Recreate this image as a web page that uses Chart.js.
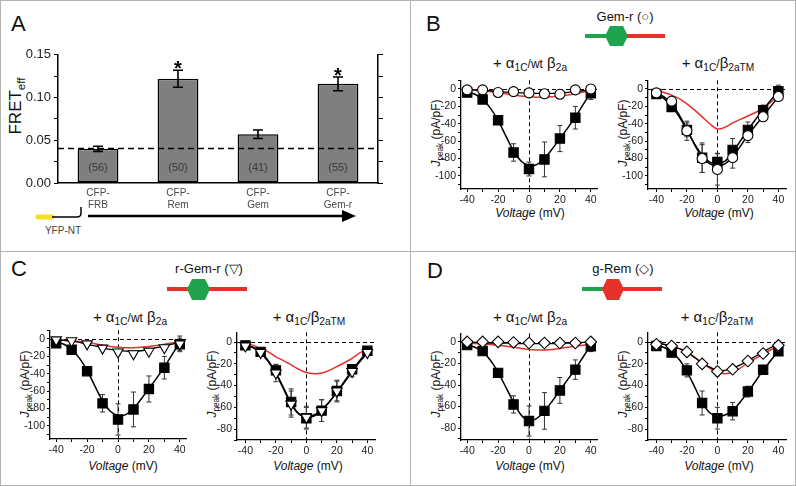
<!DOCTYPE html>
<html>
<head>
<meta charset="utf-8">
<script src="https://cdn.jsdelivr.net/npm/chart.js@4.4.1/dist/chart.umd.min.js"></script>
<style>
body { margin: 0; background: #fff; font-family: "Liberation Sans", Arial, sans-serif; }
#fig { position: relative; width: 796px; height: 486px; overflow: hidden; background: #fff; }
.ln { position: absolute; background: #b3b3b3; }
canvas { position: absolute; }
.t { position: absolute; white-space: nowrap; color: #111; line-height: 1; }
.c { transform: translate(-50%, -50%); }
.r { transform: translate(-50%, -50%) rotate(-90deg); }
.sb { font-size: 0.68em; position: relative; top: 0.32em; }
.sm { font-size: 0.8em; }
.ax { font-size: 12px; }
.tt { font-size: 15px; }
.hd { font-size: 13px; }
.pl { font-size: 22px; }
svg { position: absolute; left: 0; top: 0; }
</style>
</head>
<body>
<div id="fig">
  <div class="ln" style="left:0;top:0;width:796px;height:1px"></div>
  <div class="ln" style="left:0;top:485px;width:796px;height:1px"></div>
  <div class="ln" style="left:0;top:0;width:1px;height:486px"></div>
  <div class="ln" style="left:795px;top:0;width:1px;height:486px"></div>
  <div class="ln" style="left:410px;top:0;width:1px;height:486px"></div>
  <div class="ln" style="left:0;top:251px;width:796px;height:1px"></div>

  <!-- panel letters -->
  <div class="t pl" style="left:11px;top:13px">A</div>
  <div class="t pl" style="left:426px;top:13px">B</div>
  <div class="t pl" style="left:11px;top:258px">C</div>
  <div class="t pl" style="left:427px;top:260px">D</div>

  <!-- panel A texts -->
  <div class="t r" style="left:15px;top:106px;font-size:17px">FRET<span class="sb">eff</span></div>
  <div class="t c" style="left:63px;top:231px;font-size:10px;color:#444">YFP-NT</div>

  <!-- headers -->
  <div class="t c hd" style="left:625px;top:16px">Gem-r (○)</div>
  <div class="t c hd" style="left:209px;top:268px">r-Gem-r (▽)</div>
  <div class="t c hd" style="left:623px;top:268px">g-Rem (◇)</div>

  <!-- subplot titles -->
  <div class="t c tt" style="left:530px;top:63px">+ α<span class="sb">1C</span><span class="sm">/wt</span> β<span class="sb">2a</span></div>
  <div class="t c tt" style="left:718px;top:63px">+ α<span class="sb">1C</span><span class="sm">/</span>β<span class="sb">2aTM</span></div>
  <div class="t c tt" style="left:130px;top:317px">+ α<span class="sb">1C</span><span class="sm">/wt</span> β<span class="sb">2a</span></div>
  <div class="t c tt" style="left:309px;top:317px">+ α<span class="sb">1C</span><span class="sm">/</span>β<span class="sb">2aTM</span></div>
  <div class="t c tt" style="left:530px;top:317px">+ α<span class="sb">1C</span><span class="sm">/wt</span> β<span class="sb">2a</span></div>
  <div class="t c tt" style="left:717px;top:317px">+ α<span class="sb">1C</span><span class="sm">/</span>β<span class="sb">2aTM</span></div>

  <!-- axis titles -->
  <div class="t c ax" style="left:530px;top:213px"><i>Voltage</i> (mV)</div>
  <div class="t c ax" style="left:719px;top:213px"><i>Voltage</i> (mV)</div>
  <div class="t c ax" style="left:123px;top:466px"><i>Voltage</i> (mV)</div>
  <div class="t c ax" style="left:308px;top:466px"><i>Voltage</i> (mV)</div>
  <div class="t c ax" style="left:530px;top:466px"><i>Voltage</i> (mV)</div>
  <div class="t c ax" style="left:719px;top:466px"><i>Voltage</i> (mV)</div>
  <div class="t r ax" style="left:436px;top:133px"><i>J</i><span class="sb">peak</span> (pA/pF)</div>
  <div class="t r ax" style="left:623px;top:133px"><i>J</i><span class="sb">peak</span> (pA/pF)</div>
  <div class="t r ax" style="left:25px;top:384px"><i>J</i><span class="sb">peak</span> (pA/pF)</div>
  <div class="t r ax" style="left:212px;top:384px"><i>J</i><span class="sb">peak</span> (pA/pF)</div>
  <div class="t r ax" style="left:436px;top:384px"><i>J</i><span class="sb">peak</span> (pA/pF)</div>
  <div class="t r ax" style="left:623px;top:384px"><i>J</i><span class="sb">peak</span> (pA/pF)</div>

  <!-- construct sketches -->
  <svg width="796" height="486">
    <path d="M38,217 L52,217" stroke="#f4e01c" stroke-width="5" stroke-linecap="round"/>
    <path d="M52,217 L77,217 Q81,217 81,213 L81,207" stroke="#000" stroke-width="1.5" fill="none"/>
    <path d="M88,216 L345,216" stroke="#000" stroke-width="2.3"/>
    <polygon points="342,210 356,216 342,222" fill="#000"/>

    <path d="M585,36 L606,36" stroke="#1ea24b" stroke-width="4"/>
    <path d="M627,36 L665,36" stroke="#e8302b" stroke-width="4"/>
    <polygon points="605,36 610,26 623,26 628,36 623,46 610,46" fill="#1ea24b"/>

    <path d="M167,289 L247,289" stroke="#e8302b" stroke-width="4"/>
    <polygon points="187,289 192,279 205,279 210,289 205,300 192,300" fill="#1ea24b"/>

    <path d="M582,289 L603,289" stroke="#1ea24b" stroke-width="4"/>
    <path d="M623,289 L662,289" stroke="#e8302b" stroke-width="4"/>
    <polygon points="602,289 607,279 619,279 624,289 619,300 607,300" fill="#e8302b"/>
  </svg>
</div>

<script>
// ---------- Panel A data ----------
var fretLabels = [["CFP-", "FRB"], ["CFP-", "Rem"], ["CFP-", "Gem"], ["CFP-", "Gem-r"]];
var fretValues = [0.040, 0.122, 0.057, 0.116];
var fretErrors = [0.003, 0.010, 0.005, 0.008];
var fretN = ["(56)", "(50)", "(41)", "(55)"];
var fretStar = [false, true, false, true];
var fretBaseline = 0.041;

// ---------- I-V data (mV, pA/pF) ----------
var volts = [-40, -30, -20, -10, 0, 10, 20, 30, 40];
var fitVolts = [-40, -35, -30, -25, -20, -15, -10, -5, 0, 5, 10, 15, 20, 25, 30, 35, 40];

// B: Gem-r
var bWtCtrl = [-4, -12, -36, -73, -92, -81, -57, -33, -5];
var bWtCtrlErr = [2, 3, 3, 10, 8, 20, 15, 13, 7];
var bWtTest = [-1, -1, -4, -3, -4.5, -5.5, -6, -1, 0];
var bWtTestErr = [1, 1, 1, 1, 2, 2, 2, 1, 1];
var bWtCtrlFit = [-3, -6, -12, -22, -36, -54, -71, -83, -88, -87, -80, -69, -57, -45, -32, -18, -4];
var bWtTestFit = [-1, -1, -1.5, -2, -3, -3.5, -4, -4.5, -5, -5, -5, -5, -4.5, -4, -3, -2, -1];
var bWtRed = [-1, -1.5, -2, -3, -4, -5.5, -7, -8, -9, -9.5, -9.5, -9, -8, -7, -5.5, -3.5, -2];

var bTmCtrl = [-5.7, -20.7, -47, -79, -84, -70, -47, -24.5, -2.6];
var bTmCtrlErr = [2, 4, 8, 17, 10, 13, 9, 6, 7];
var bTmTest = [-4.5, -14, -48, -80, -92.5, -79, -53.6, -32, -8.7];
var bTmTestErr = [2, 4, 11, 16, 18, 12, 8, 5, 3];
var bTmCtrlFit = [-5, -11, -20, -32, -47, -63, -76, -84, -86, -83, -73, -60, -47, -35, -24, -13, -3];
var bTmTestFit = [-4, -9, -17, -30, -46, -64, -78, -86, -88, -86, -78, -66, -53, -42, -31, -20, -9];
var bTmRed = [-2, -4, -7, -11, -17, -24, -32, -40, -46, -44, -39, -35, -31, -27, -22, -15, -8];

// C: r-Gem-r
var cWtCtrl = [-5, -12.4, -37, -74, -92.5, -81, -57.5, -33, -6];
var cWtCtrlErr = [2, 3, 3, 10, 18, 20, 15, 13, 7];
var cWtTest = [-1, -2, -5.6, -10.5, -15, -17, -14, -10, -5.6];
var cWtTestErr = [1, 1, 2, 2, 3, 3, 3, 3, 9];
var cWtCtrlFit = [-3, -6, -12, -22, -36, -54, -71, -83, -88, -87, -80, -69, -57, -45, -32, -18, -4];
var cWtTestFit = [-1, -1.5, -2.5, -4, -6, -8, -10, -12, -13, -14, -14, -13.5, -12, -10, -8, -6, -4];
var cWtRed = [-1, -1.5, -2, -3, -4, -5.5, -7, -8.5, -9.5, -10, -10, -9.5, -8.5, -7.5, -6, -4.5, -3];

var cTmCtrl = [-3, -9, -26, -55, -70, -63, -45, -25, -8];
var cTmCtrlErr = [2, 3, 5, 12, 10, 10, 9, 4, 3];
var cTmTest = [-3.6, -9.6, -28.4, -57, -69, -63, -45, -27, -9.6];
var cTmTestErr = [2, 3, 8, 12, 10, 10, 10, 5, 2];
var cTmCtrlFit = [-3, -5, -9, -17, -28, -42, -56, -66, -69, -68, -63, -55, -46, -36, -26, -17, -9];
var cTmTestFit = [-3, -5, -10, -18, -29, -43, -57, -66, -68, -67, -62, -55, -46, -37, -27, -18, -10];
var cTmRed = [-1.5, -3, -6, -9, -13.5, -17, -21, -25, -28, -29, -28.5, -26, -22.5, -19, -15, -10, -6];

// D: g-Rem
var dWtCtrl = [-3, -8.5, -28.7, -58, -73.4, -64, -45, -25.7, -4];
var dWtCtrlErr = [1, 2, 3, 8, 14, 17, 12, 9, 5];
var dWtTest = [0, 0, 0, -0.5, -1, -1, -1, -1, 0];
var dWtTestErr = [1, 1, 1, 1, 1, 1, 1, 1, 1];
var dWtCtrlFit = [-3, -5, -9, -17, -28, -42, -56, -68, -73, -71, -64, -55, -45, -35, -25, -14, -3];
var dWtTestFit = [-0.5, -0.5, -0.5, -1, -1, -1, -1, -1.5, -1.5, -1.5, -1.5, -1.5, -1.5, -1, -1, -0.5, -0.5];
var dWtRed = [-1, -1.5, -2, -2.5, -3, -4, -5, -6, -7, -7.5, -7.5, -7, -6, -5, -4, -3, -2];

var dTmCtrl = [-3.6, -9.6, -26, -56, -70, -63.5, -45.5, -25.4, -8.4];
var dTmCtrlErr = [1, 2, 6, 11, 10, 8, 5, 3, 2];
var dTmTest = [-2, -3.6, -9, -20, -27, -25, -17.4, -10.5, -3];
var dTmTestErr = [1, 1, 2, 2, 4, 3, 3, 2, 1];
var dTmCtrlFit = [-3, -5, -9, -16, -27, -41, -55, -65, -68, -67, -63, -55, -46, -36, -26, -17, -8];
var dTmTestFit = [-1, -2, -4, -6, -9, -14, -19, -23, -26, -26, -24, -21, -17, -13, -9, -5, -2];
var dTmRed = [-1, -2, -4, -6, -9, -14, -19, -24, -28, -29, -28, -24, -19, -15, -11, -7, -4];

var RED = "#e8302b";
var FONT = '"Liberation Sans", Arial, sans-serif';

Chart.defaults.font.family = FONT;
Chart.defaults.color = "#1a1a1a";
Chart.defaults.animation = false;
Chart.defaults.plugins.legend.display = false;
Chart.defaults.plugins.tooltip.enabled = false;

var fig = document.getElementById("fig");

// make a canvas so that the chart area lands on [l,t,r,b]
function makeCanvas(l, t, r, b, yw, xh, pt, pr) {
  var cv = document.createElement("canvas");
  var w = r - l + yw + pr, h = b - t + pt + xh;
  cv.width = w; cv.height = h;
  cv.style.left = (l - yw) + "px";
  cv.style.top = (t - pt) + "px";
  cv.style.width = w + "px";
  cv.style.height = h + "px";
  fig.insertBefore(cv, fig.querySelector("svg"));
  return cv;
}

function every20(v) { return Math.round(v) % 20 === 0 ? String(Math.round(v)) : ""; }

// ---------------- Panel A ----------------
var fretExtras = {
  id: "fretExtras",
  afterDatasetsDraw: function(chart) {
    var ctx = chart.ctx, xs = chart.scales.x, ys = chart.scales.y, area = chart.chartArea;
    ctx.save();
    ctx.strokeStyle = "#000";
    ctx.lineWidth = 1.3;
    ctx.setLineDash([6, 4]);
    var yb = Math.round(ys.getPixelForValue(fretBaseline)) + 0.5;
    ctx.beginPath(); ctx.moveTo(area.left, yb); ctx.lineTo(area.right, yb); ctx.stroke();
    ctx.setLineDash([]);
    for (var i = 0; i < fretValues.length; i++) {
      var x = xs.getPixelForValue(i);
      var hi = ys.getPixelForValue(fretValues[i] + fretErrors[i]);
      var lo = ys.getPixelForValue(fretValues[i] - fretErrors[i]);
      ctx.lineWidth = 1.6;
      ctx.beginPath();
      ctx.moveTo(x, hi); ctx.lineTo(x, lo);
      ctx.moveTo(x - 5, hi); ctx.lineTo(x + 5, hi);
      ctx.moveTo(x - 5, lo); ctx.lineTo(x + 5, lo);
      ctx.stroke();
      ctx.fillStyle = "#3a3a3a";
      ctx.font = "11px " + FONT;
      ctx.textAlign = "center";
      ctx.textBaseline = "middle";
      ctx.fillText(fretN[i], x, area.bottom - 15);
      if (fretStar[i]) {
        ctx.fillStyle = "#000";
        ctx.font = "bold 20px " + FONT;
        ctx.textBaseline = "alphabetic";
        ctx.fillText("*", x, hi + 5);
      }
    }
    ctx.restore();
  }
};

new Chart(makeCanvas(58, 52, 386, 183, 44, 30, 8, 2), {
  type: "bar",
  data: {
    labels: fretLabels,
    datasets: [{
      data: fretValues,
      backgroundColor: "#7f7f7f",
      borderColor: "#000",
      borderWidth: 1.5,
      borderSkipped: false,
      barPercentage: 1,
      categoryPercentage: 0.51,
      yAxisID: "y"
    }]
  },
  options: {
    responsive: false,
    maintainAspectRatio: false,
    layout: { padding: { top: 8, right: 2, left: 0, bottom: 0 } },
    scales: {
      x: {
        grid: { display: false, drawTicks: false },
        border: { display: true, color: "#000", width: 1.5 },
        ticks: { font: { size: 10, lineHeight: 1.2 }, color: "#4a4a4a", padding: 4, maxRotation: 0, autoSkip: false },
        afterFit: function(s) { s.height = 30; }
      },
      y: {
        position: "left", min: 0, max: 0.15,
        grid: { drawOnChartArea: false, color: "#000", tickLength: 4 },
        border: { display: true, color: "#000", width: 1.5 },
        ticks: {
          stepSize: 0.025, includeBounds: false, autoSkip: false, font: { size: 13 }, color: "#222", padding: 3,
          callback: function(v) { return Math.abs(v * 20 - Math.round(v * 20)) < 1e-6 ? v.toFixed(2) : ""; }
        },
        afterFit: function(s) { s.width = 44; }
      },
      y2: {
        position: "right", min: 0, max: 0.15,
        grid: { drawOnChartArea: false, color: "#000", tickLength: 5 },
        border: { display: true, color: "#000", width: 1.5 },
        ticks: { stepSize: 0.025, includeBounds: false, autoSkip: false, padding: 0, callback: function() { return ""; } },
        afterFit: function(s) { s.width = 8; }
      }
    }
  },
  plugins: [fretExtras]
});

// ---------------- I-V panels ----------------
function pts(xs, ys) {
  return xs.map(function(x, i) { return { x: x, y: ys[i] }; });
}

function markers(vals, errs, style) {
  var ds = {
    data: pts(volts, vals),
    errors: errs,
    showLine: false,
    pointStyle: style,
    pointBorderColor: "#000",
    pointBorderWidth: 1.1,
    pointBackgroundColor: "#fff",
    pointRadius: 5
  };
  if (style === "rect") { ds.pointBackgroundColor = "#000"; ds.pointRadius = 6.6; }
  if (style === "triangle") { ds.pointRotation = 180; ds.pointRadius = 6; }
  if (style === "rectRot") { ds.pointRadius = 5.8; }
  return ds;
}

function curve(vals, color, width) {
  return {
    data: pts(fitVolts, vals),
    showLine: true,
    borderColor: color,
    borderWidth: width,
    pointRadius: 0,
    tension: 0.35,
    fill: false
  };
}

var ivExtras = {
  id: "ivExtras",
  beforeDatasetsDraw: function(chart) {
    var ctx = chart.ctx, xs = chart.scales.x, ys = chart.scales.y, area = chart.chartArea;
    ctx.save();
    ctx.strokeStyle = "#000";
    ctx.lineWidth = 1;
    ctx.setLineDash([4, 3]);
    var y0 = Math.round(ys.getPixelForValue(0)) + 0.5;
    var x0 = Math.round(xs.getPixelForValue(0)) + 0.5;
    ctx.beginPath();
    ctx.moveTo(area.left, y0); ctx.lineTo(area.right, y0);
    ctx.moveTo(x0, area.top); ctx.lineTo(x0, area.bottom);
    ctx.stroke();
    ctx.setLineDash([]);
    ctx.strokeStyle = "#333";
    chart.data.datasets.forEach(function(ds) {
      if (!ds.errors) return;
      ds.data.forEach(function(p, i) {
        var x = xs.getPixelForValue(p.x);
        var hi = ys.getPixelForValue(p.y + ds.errors[i]);
        var lo = ys.getPixelForValue(p.y - ds.errors[i]);
        ctx.beginPath();
        ctx.moveTo(x, hi); ctx.lineTo(x, lo);
        ctx.moveTo(x - 2.5, hi); ctx.lineTo(x + 2.5, hi);
        ctx.moveTo(x - 2.5, lo); ctx.lineTo(x + 2.5, lo);
        ctx.stroke();
      });
    });
    ctx.restore();
  }
};

function ivChart(box, xMin, xMax, yMin, yMax, datasets) {
  var YW = 34, XH = 18, PT = 6, PR = 10;
  var cv = makeCanvas(box[0], box[1], box[2], box[3], YW, XH, PT, PR);
  return new Chart(cv, {
    type: "line",
    data: { datasets: datasets },
    options: {
      responsive: false,
      maintainAspectRatio: false,
      layout: { padding: { top: PT, right: PR, left: 0, bottom: 0 } },
      scales: {
        x: {
          type: "linear", min: xMin, max: xMax,
          grid: { drawOnChartArea: false, color: "#000", tickLength: 3 },
          border: { display: true, color: "#000", width: 1.3 },
          ticks: {
            stepSize: 10, includeBounds: false, autoSkip: false, font: { size: 10.5 }, color: "#222", padding: 2, maxRotation: 0,
            callback: every20
          },
          afterFit: function(s) { s.height = XH; }
        },
        y: {
          type: "linear", min: yMin, max: yMax,
          grid: { drawOnChartArea: false, color: "#000", tickLength: 3 },
          border: { display: true, color: "#000", width: 1.3 },
          ticks: {
            stepSize: 10, includeBounds: false, autoSkip: false, font: { size: 10.5 }, color: "#222", padding: 2,
            callback: every20
          },
          afterFit: function(s) { s.width = YW; }
        }
      }
    },
    plugins: [ivExtras]
  });
}

// B
ivChart([461, 78, 597, 189], -44, 44, -115, 10, [
  markers(bWtTest, bWtTestErr, "circle"),
  markers(bWtCtrl, bWtCtrlErr, "rect"),
  curve(bWtTestFit, "#000", 1.3),
  curve(bWtCtrlFit, "#000", 1.5),
  curve(bWtRed, RED, 1.5)
]);
ivChart([648, 78, 786, 189], -45.5, 45, -115, 10, [
  markers(bTmTest, bTmTestErr, "circle"),
  markers(bTmCtrl, bTmCtrlErr, "rect"),
  curve(bTmTestFit, "#000", 1.5),
  curve(bTmCtrlFit, "#000", 1.5),
  curve(bTmRed, RED, 1.5)
]);

// C
ivChart([50, 328, 186, 439], -44, 44, -115, 10, [
  markers(cWtTest, cWtTestErr, "triangle"),
  markers(cWtCtrl, cWtCtrlErr, "rect"),
  curve(cWtTestFit, "#000", 1.3),
  curve(cWtCtrlFit, "#000", 1.5),
  curve(cWtRed, RED, 1.5)
]);
ivChart([237, 330, 375, 440], -45.5, 45, -90, 9, [
  markers(cTmTest, cTmTestErr, "triangle"),
  markers(cTmCtrl, cTmCtrlErr, "rect"),
  curve(cTmTestFit, "#000", 1.5),
  curve(cTmCtrlFit, "#000", 1.5),
  curve(cTmRed, RED, 1.5)
]);

// D
ivChart([461, 331, 597, 440], -44, 44, -91, 8, [
  markers(dWtTest, dWtTestErr, "rectRot"),
  markers(dWtCtrl, dWtCtrlErr, "rect"),
  curve(dWtTestFit, "#000", 1.3),
  curve(dWtCtrlFit, "#000", 1.5),
  curve(dWtRed, RED, 1.5)
]);
ivChart([648, 330, 786, 440], -45.5, 45, -90, 9, [
  markers(dTmTest, dTmTestErr, "rectRot"),
  markers(dTmCtrl, dTmCtrlErr, "rect"),
  curve(dTmTestFit, "#000", 1.3),
  curve(dTmCtrlFit, "#000", 1.5),
  curve(dTmRed, RED, 1.5)
]);
</script>
</body>
</html>
